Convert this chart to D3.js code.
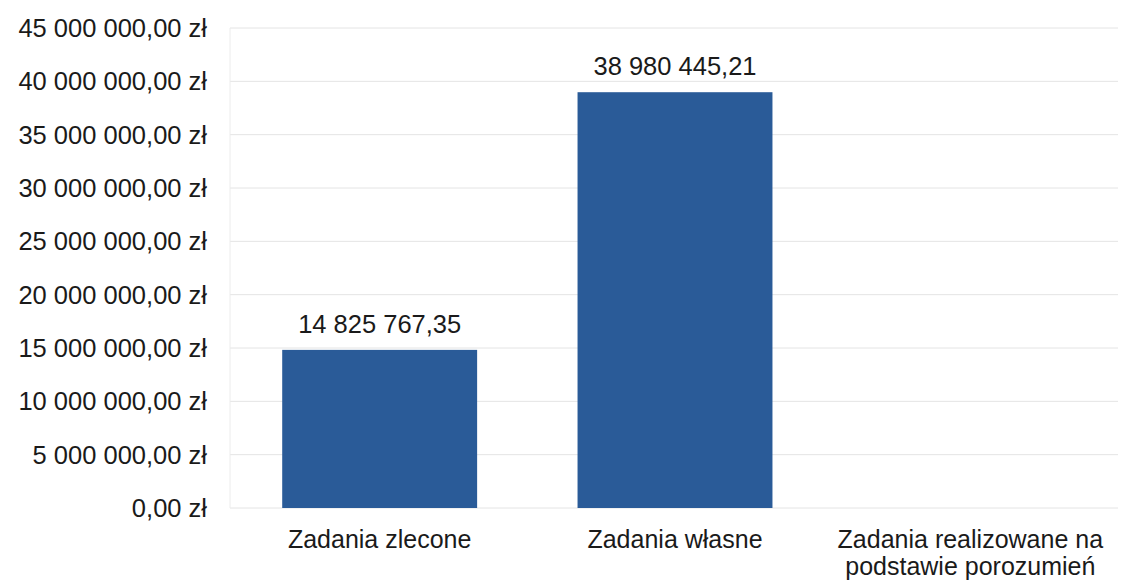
<!DOCTYPE html>
<html>
<head>
<meta charset="utf-8">
<script src="https://cdn.jsdelivr.net/npm/d3@7"></script>
<style>
  body { margin: 0; background: #fff; }
  svg text { font-family: "Liberation Sans", Arial, sans-serif; fill: #1a1a1a; }
</style>
</head>
<body>
<svg id="chart"></svg>
<script>
const width = 1121;
const height = 582;

// data
const categories = ["Zadania zlecone", "Zadania własne", "Zadania realizowane na podstawie porozumień"];
const values = [14825767.35, 38980445.21, 0];
const valueLabels = ["14 825 767,35", "38 980 445,21", ""];
const yTicks = [0, 5000000, 10000000, 15000000, 20000000, 25000000, 30000000, 35000000, 40000000, 45000000];

const svg = d3.select("#chart")
  .attr("width", width)
  .attr("height", height);

const x = d3.scaleBand()
  .domain(categories)
  .range([232, 1118])
  .paddingInner(0.34)
  .paddingOuter(0.17);

const y = d3.scaleLinear()
  .domain([0, 45000000])
  .range([508, 28]);

// formatter: "45 000 000,00 zł"
const fmt = v => d3.format(",.2f")(v).replace(/,/g, " ").replace(".", ",") + " zł";

// gridlines
svg.append("g")
  .selectAll("line")
  .data(yTicks)
  .join("line")
  .attr("x1", 230)
  .attr("x2", 1118)
  .attr("y1", d => y(d))
  .attr("y2", d => y(d))
  .attr("stroke", "#e4e4e4")
  .attr("stroke-width", 1);

// left axis line (faint)
svg.append("line")
  .attr("x1", 230).attr("x2", 230)
  .attr("y1", y(45000000)).attr("y2", y(0))
  .attr("stroke", "#ececec");

// y labels
svg.append("g")
  .selectAll("text")
  .data(yTicks)
  .join("text")
  .attr("x", 207)
  .attr("y", d => y(d))
  .attr("dy", "0.35em")
  .attr("text-anchor", "end")
  .attr("font-size", 25.5)
  .text(d => fmt(d));

// bars
svg.append("g")
  .selectAll("rect")
  .data(values)
  .join("rect")
  .attr("x", (d, i) => x(categories[i]))
  .attr("width", x.bandwidth())
  .attr("y", d => y(d))
  .attr("height", d => y(0) - y(d))
  .attr("fill", "#2a5b98");

// value labels
svg.append("g")
  .selectAll("text")
  .data(values)
  .join("text")
  .attr("x", (d, i) => x(categories[i]) + x.bandwidth() / 2)
  .attr("y", d => y(d) - 17)
  .attr("text-anchor", "middle")
  .attr("font-size", 25.5)
  .text((d, i) => valueLabels[i]);

// category labels, wrapped like the original
const catLines = [["Zadania zlecone"], ["Zadania własne"], ["Zadania realizowane na", "podstawie porozumień"]];
svg.append("g")
  .selectAll("text")
  .data(categories)
  .join("text")
  .attr("x", d => x(d) + x.bandwidth() / 2)
  .attr("y", 548)
  .attr("text-anchor", "middle")
  .attr("font-size", 25)
  .each(function(d, i) {
    d3.select(this).selectAll("tspan")
      .data(catLines[i])
      .join("tspan")
      .attr("x", x(d) + x.bandwidth() / 2)
      .attr("dy", (t, j) => j === 0 ? 0 : 27)
      .text(t => t);
  });
</script>
</body>
</html>
